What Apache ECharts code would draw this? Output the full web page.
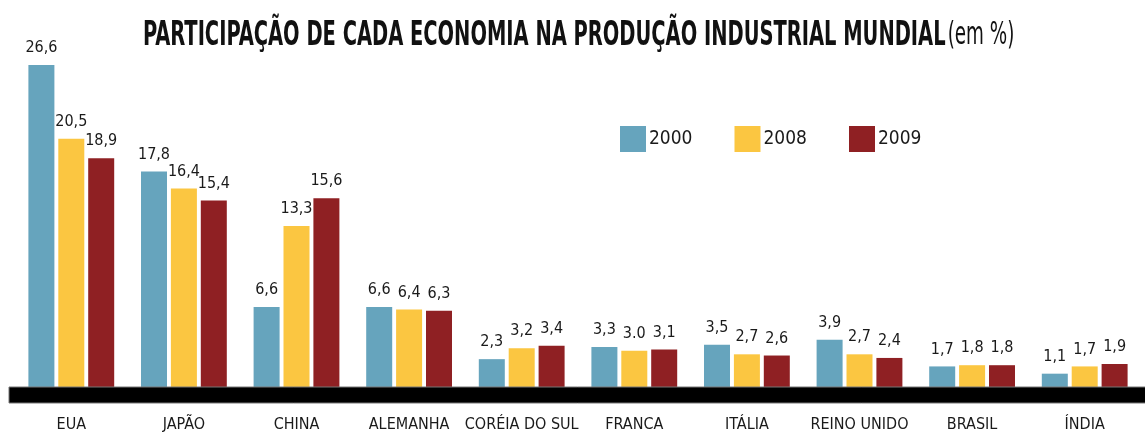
<!DOCTYPE html>
<html>
<head>
<meta charset="utf-8">
<script src="https://cdn.jsdelivr.net/npm/echarts@6/dist/echarts.min.js"></script>
<style>
  html, body { margin: 0; padding: 0; background: #fff; }
  #chart { width: 1145px; height: 433px; }
</style>
</head>
<body>
<div id="chart"></div>
<script>
// 类别与数据
const categories = ['EUA', 'JAPÃO', 'CHINA', 'ALEMANHA', 'CORÉIA DO SUL', 'FRANCA', 'ITÁLIA', 'REINO UNIDO', 'BRASIL', 'ÍNDIA'];
const years = ['2000', '2008', '2009'];
const values2000 = [26.6, 17.8, 6.6, 6.6, 2.3, 3.3, 3.5, 3.9, 1.7, 1.1];
const values2008 = [20.5, 16.4, 13.3, 6.4, 3.2, 3.0, 2.7, 2.7, 1.8, 1.7];
const values2009 = [18.9, 15.4, 15.6, 6.3, 3.4, 3.1, 2.6, 2.4, 1.8, 1.9];
// 原图中法国2008写作 "3.0"
const labelOverrides = { '2008|FRANCA': '3.0' };

const titleMain = 'PARTICIPAÇÃO DE CADA ECONOMIA NA PRODUÇÃO INDUSTRIAL MUNDIAL';
const titleUnit = '(em %)';

const colors = ['#66a4bd', '#fbc641', '#8f2023'];
const FONT = '"DejaVu Sans Condensed", "Liberation Sans Narrow", sans-serif';

function makeSeries(name, data, color) {
    return {
        name: name,
        type: 'bar',
        data: data,
        barWidth: 26,
        barGap: '15%',
        itemStyle: { color: color },
        label: {
            show: true,
            position: 'top',
            distance: 9,
            fontFamily: FONT,
            fontSize: 16,
            color: '#1a1a1a',
            formatter: p => labelOverrides[name + '|' + p.name] || p.value.toFixed(1).replace('.', ',')
        }
    };
}

/**
 * 测量文字宽度, 用来把标题横向压缩成窄体
 */
function measure(text, font) {
    const ctx = document.createElement('canvas').getContext('2d');
    ctx.font = font;
    return ctx.measureText(text).width;
}

const chart = echarts.init(document.getElementById('chart'));
chart.setOption({
    animation: false,
    legend: {
        data: years,
        left: 620,
        top: 126,
        padding: 0,
        itemWidth: 26,
        itemHeight: 26,
        itemGap: 42,
        icon: 'rect',
        textStyle: { fontFamily: FONT, fontSize: 19, color: '#1a1a1a', padding: [0, 0, 0, -2] }
    },
    grid: { left: 15, right: 4, top: 48, bottom: 46 },
    xAxis: {
        type: 'category',
        data: categories,
        axisLine: { show: false },
        axisTick: { show: false },
        axisLabel: {
            margin: 30,
            fontFamily: FONT,
            fontSize: 16,
            color: '#1a1a1a',
            interval: 0
        }
    },
    yAxis: {
        type: 'value',
        min: 0,
        max: 28,
        show: false,
        splitLine: { show: false }
    },
    series: [
        makeSeries(years[0], values2000, colors[0]),
        makeSeries(years[1], values2008, colors[1]),
        makeSeries(years[2], values2009, colors[2])
    ]
});

// 标题: 粗体主标题 + 细体单位, 横向压缩
const mainFont = 'bold 34px "DejaVu Sans Condensed"';
const unitFont = '32px "DejaVu Sans Condensed"';
const fullWidth = measure(titleMain, mainFont) + measure(' ' + titleUnit, unitFont);
const scaleX = 875 / fullWidth;

// 底部黑色基线
const baseY = chart.convertToPixel({ yAxisIndex: 0 }, 0);

chart.setOption({
    graphic: [
        {
            type: 'rect',
            shape: { x: 9, y: baseY, width: 1140, height: 16 },
            style: { fill: '#000', stroke: '#777', lineWidth: 1 },
            z: 10
        },
        {
            type: 'text',
            x: 143,
            y: 53,
            scaleX: scaleX,
            style: {
                text: '{b|' + titleMain + '} {n|' + titleUnit + '}',
                textVerticalAlign: 'bottom',
                verticalAlign: 'bottom',
                rich: {
                    b: { fontFamily: 'DejaVu Sans Condensed', fontSize: 34, fontWeight: 'bold', fill: '#111' },
                    n: { fontFamily: 'DejaVu Sans Condensed', fontSize: 32, fill: '#111' }
                }
            }
        }
    ]
});
</script>
</body>
</html>
